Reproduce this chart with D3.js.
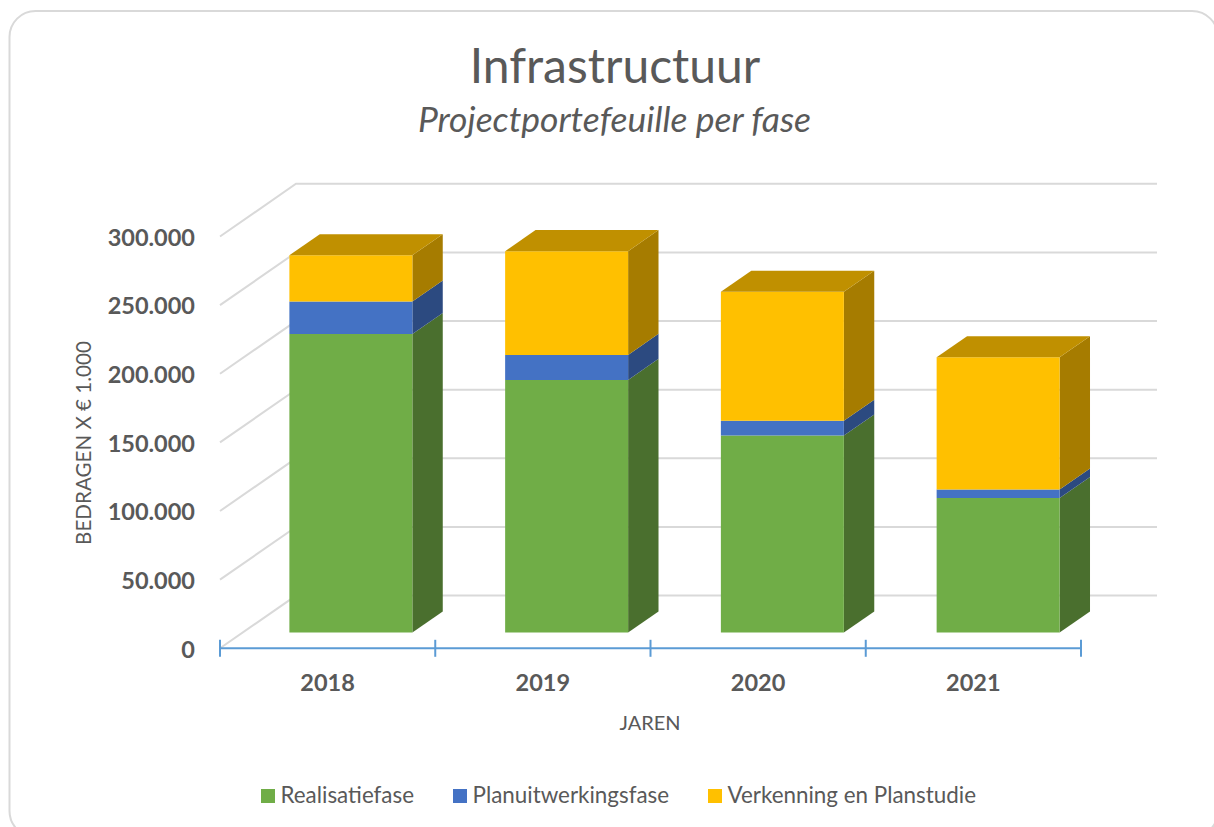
<!DOCTYPE html>
<html><head><meta charset="utf-8">
<script src="https://cdn.jsdelivr.net/npm/d3@7"></script>
<style>html,body{margin:0;padding:0;background:#fff;overflow:hidden}svg{display:block}text{font-family:Lato,"Open Sans",sans-serif;fill:#595959}</style>
</head><body><svg id="c" width="1214" height="827"></svg>
<script>
const years = ["2018","2019","2020","2021"];
const seriesNames = ["Realisatiefase","Planuitwerkingsfase","Verkenning en Planstudie"];
const realisatie = [217400,184000,143500,98000];
const planuitwerking = [23700,18200,10700,6100];
const verkenning = [33700,75600,94000,96400];
const yTicks = [0,50000,100000,150000,200000,250000,300000];
const front = ["#70AD47","#4472C4","#FFC000"];
const side = ["#4A6F2E","#2C4A80","#A67C00"];
const topFace = ["#5C8E3A","#375EA3","#C09000"];

const svg = d3.select("#c");
svg.append("rect").attr("x",9.5).attr("y",11).attr("width",1208.5).attr("height",826).attr("rx",26)
  .attr("fill","#fff").attr("stroke","#D9D9D9").attr("stroke-width",2);

const x = d3.scaleBand().domain(years).range([220,1081]);
const xBar = d3.scaleBand().domain(years).range([220.2,1083.2]);
const y = d3.scaleLinear().domain([0,300000]).range([648.3,236.5]);
const depthX = 76, depthY = -52.7;
const proj = (px,py,d) => [px+depthX*d, py+depthY*d];
const barFrac = 0.570, dFront = 0.30, dBack = 0.70;
const lineGen = d3.line();

const grid = svg.append("g");
yTicks.forEach(v=>{
  const a = proj(x.range()[0],y(v),0), b = proj(x.range()[0],y(v),1), c = proj(x.range()[1],y(v),1);
  grid.append("path").attr("d",lineGen([a,b,c])).attr("fill","none").attr("stroke","#D9D9D9").attr("stroke-width",2);
});

const stacks = [realisatie,planuitwerking,verkenning];
const bars = svg.append("g");
years.forEach((yr,i)=>{
  const bw = xBar.bandwidth()*barFrac;
  const x0 = xBar(yr)+(xBar.bandwidth()-bw)/2, x1 = x0+bw;
  let base = 0;
  stacks.forEach((s,k)=>{
    const v0 = base, v1 = base+s[i]; base = v1;
    const poly = pts => "M"+pts.map(p=>p.join(",")).join("L")+"Z";
    const f = (px,v,d)=>proj(px,y(v),d);
    bars.append("path").attr("d",poly([f(x1,v0,dFront),f(x1,v0,dBack),f(x1,v1,dBack),f(x1,v1,dFront)])).attr("fill",side[k]);
    bars.append("path").attr("d",poly([f(x0,v0,dFront),f(x1,v0,dFront),f(x1,v1,dFront),f(x0,v1,dFront)])).attr("fill",front[k]);
    if(k===stacks.length-1){
      bars.append("path").attr("d",poly([f(x0,v1,dFront),f(x1,v1,dFront),f(x1,v1,dBack),f(x0,v1,dBack)])).attr("fill",topFace[k]);
    }
  });
});

// axes
const yAxis = d3.axisLeft(y).tickValues(yTicks).tickSize(0).tickPadding(0)
  .tickFormat(d=>d3.format(",")(d).replace(/,/g,"."));
const gy = svg.append("g").attr("transform","translate(195,0.3)").call(yAxis);
gy.select(".domain").remove();
gy.selectAll("text").attr("font-size",23.5).attr("font-weight",700).attr("dy","0.36em");

const xAxis = d3.axisBottom(x).tickSize(0).tickPadding(0);
const gx = svg.append("g").attr("transform","translate(0,648.3)").call(xAxis);
gx.select(".domain").remove();
gx.selectAll("text").attr("font-size",23.5).attr("font-weight",700).attr("y",34).attr("dy","0.36em");

const axisLine = svg.append("g").attr("stroke","#5B9BD5").attr("stroke-width",2);
axisLine.append("line").attr("x1",x.range()[0]).attr("x2",x.range()[1]).attr("y1",y(0)).attr("y2",y(0));
years.concat(["end"]).forEach((d,i)=>{
  const tx = i<years.length ? x(d) : x.range()[1];
  axisLine.append("line").attr("x1",tx).attr("x2",tx).attr("y1",y(0)-8.5).attr("y2",y(0)+8.5);
});

// titles
svg.append("text").attr("x",615).attr("y",83).attr("text-anchor","middle").attr("font-size",48).text("Infrastructuur");
svg.append("text").attr("x",614.5).attr("y",132).attr("text-anchor","middle").attr("font-size",35.5).attr("font-style","italic").text("Projectportefeuille per fase");
svg.append("text").attr("transform","translate(91,443) rotate(-90)").attr("text-anchor","middle").attr("font-size",20.6).text("BEDRAGEN X € 1.000");
svg.append("text").attr("x",650).attr("y",730).attr("text-anchor","middle").attr("font-size",20).text("JAREN");

// legend
const legendX = [261,453,708];
seriesNames.forEach((n,i)=>{
  svg.append("rect").attr("x",legendX[i]).attr("y",789).attr("width",14).attr("height",14).attr("fill",front[i]);
  svg.append("text").attr("x",legendX[i]+19.5).attr("y",803).attr("font-size",22.4).text(n);
});
</script></body></html>
